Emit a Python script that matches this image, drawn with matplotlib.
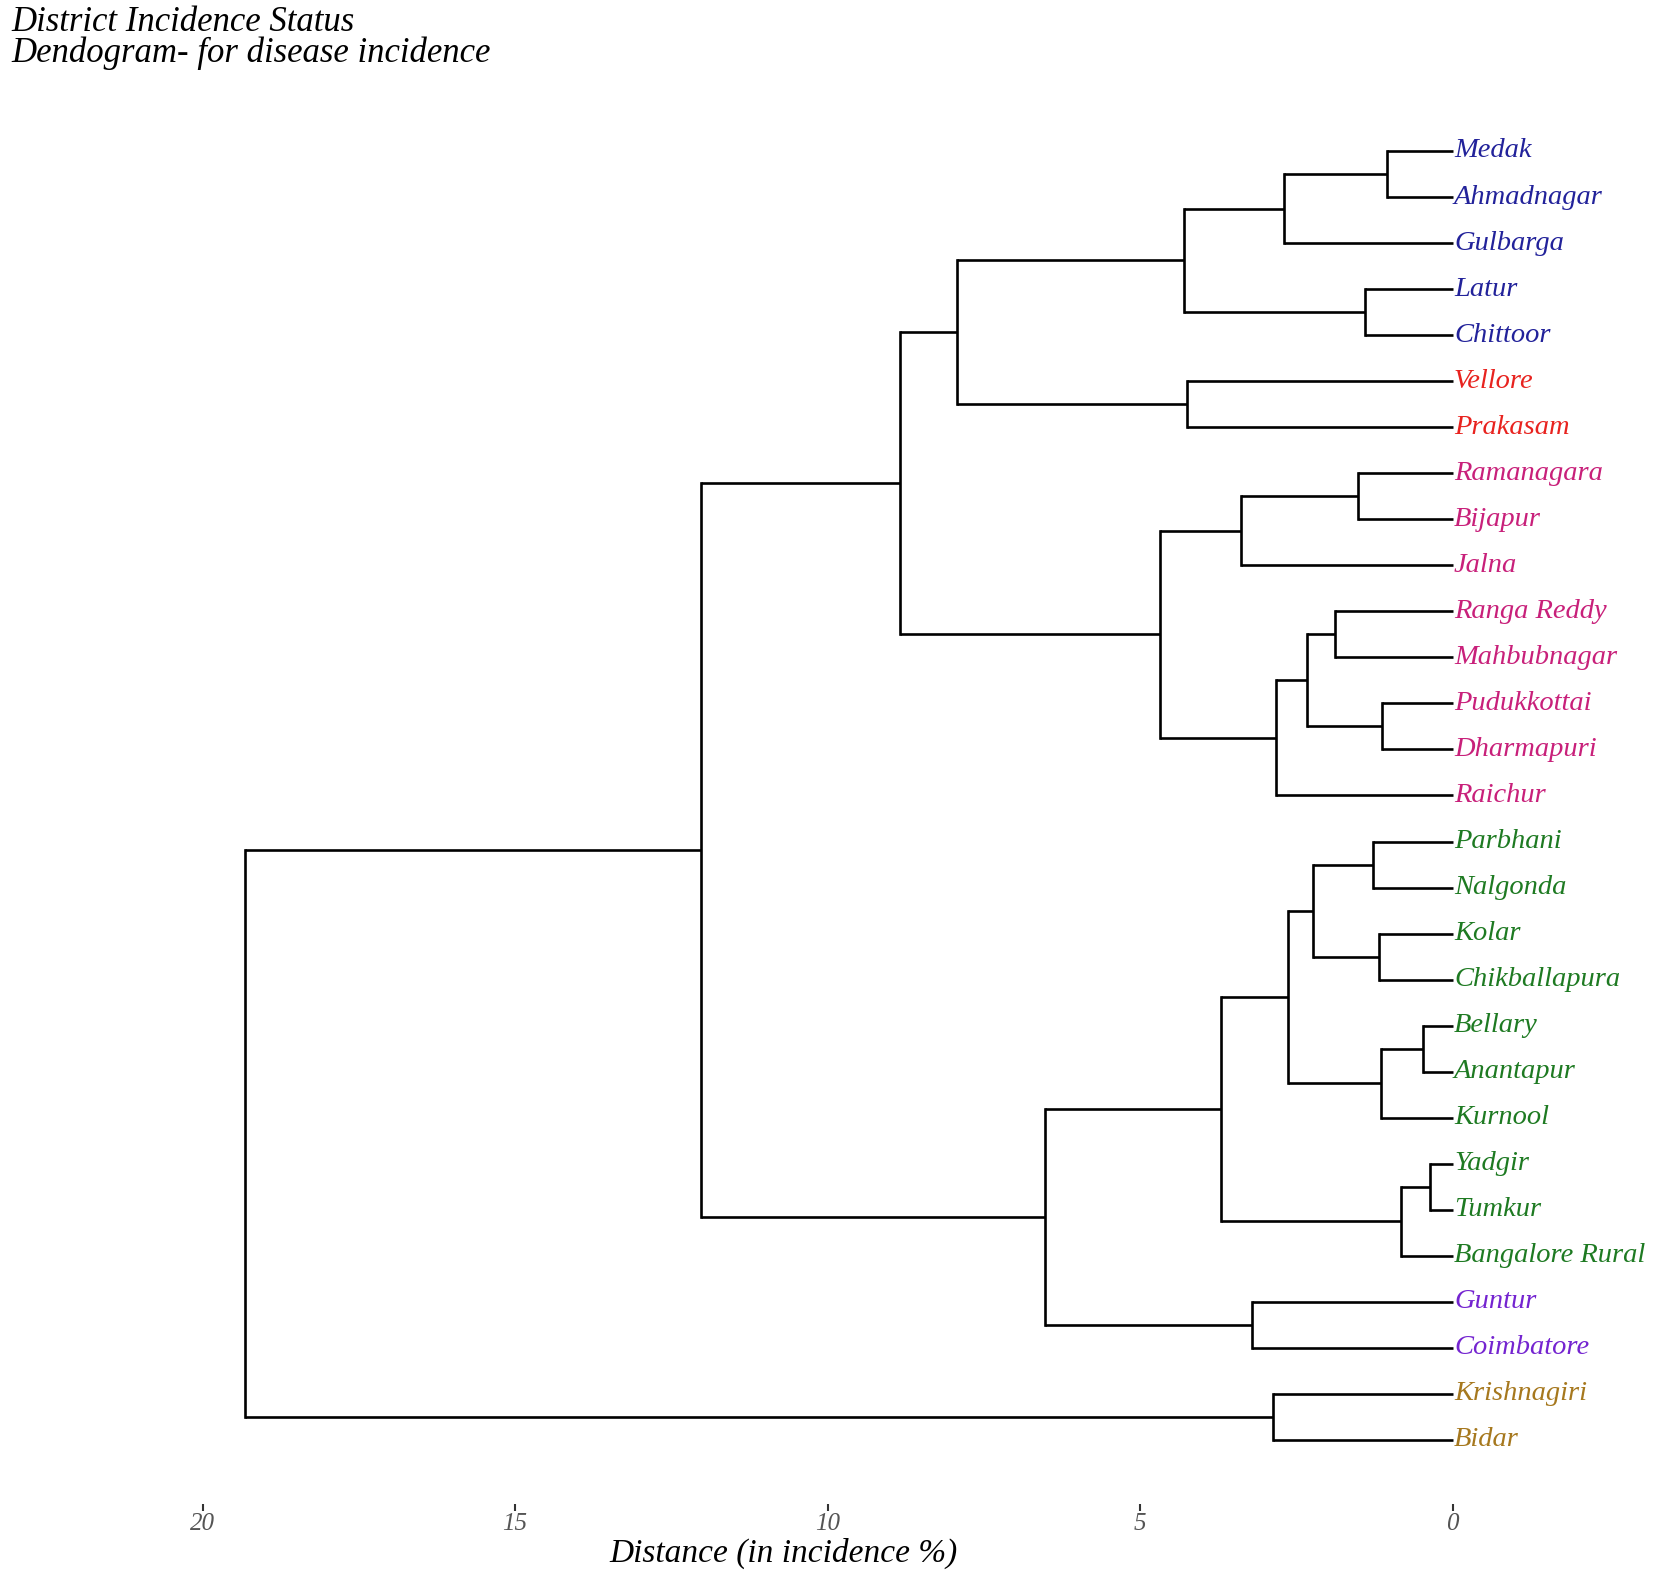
import numpy as np
import matplotlib
matplotlib.use("Agg")
import matplotlib.pyplot as plt

# ==== DATA ====
LEAVES = ["Medak", "Ahmadnagar", "Gulbarga", "Latur", "Chittoor",
          "Vellore", "Prakasam",
          "Ramanagara", "Bijapur", "Jalna", "Ranga Reddy", "Mahbubnagar",
          "Pudukkottai", "Dharmapuri", "Raichur",
          "Parbhani", "Nalgonda", "Kolar", "Chikballapura", "Bellary",
          "Anantapur", "Kurnool", "Yadgir", "Tumkur", "Bangalore Rural",
          "Guntur", "Coimbatore",
          "Krishnagiri", "Bidar"]

# cluster id for every leaf
CLUSTER = [0] * 5 + [1] * 2 + [2] * 8 + [3] * 10 + [4] * 2 + [5] * 2
CLUSTER_COLORS = ["#22229a", "#e8231f", "#c8207a", "#1e7a22", "#7424d0", "#a6781e"]

# merges: (child a, child b, height) -- new node ids start at len(LEAVES)
MERGES = [
    (0, 1, 1.05), (29, 2, 2.70), (3, 4, 1.40), (30, 31, 4.30),
    (5, 6, 4.25), (32, 33, 7.93),
    (7, 8, 1.52), (35, 9, 3.38), (10, 11, 1.89), (12, 13, 1.13),
    (37, 38, 2.33), (39, 14, 2.82), (36, 40, 4.68), (34, 41, 8.84),
    (15, 16, 1.28), (17, 18, 1.18), (43, 44, 2.24), (19, 20, 0.47),
    (46, 21, 1.15), (45, 47, 2.63), (22, 23, 0.37), (49, 24, 0.83),
    (48, 50, 3.70), (25, 26, 3.21), (51, 52, 6.53), (42, 53, 12.03),
    (27, 28, 2.87), (54, 55, 19.32),
]

XTICKS = [0, 5, 10, 15, 20]
# ==============

serif = ["Liberation Serif", "DejaVu Serif"]

fig = plt.figure(figsize=(16.54, 15.72), dpi=100)
ax = fig.add_axes([0, 0.043, 1, 0.957])

n = len(LEAVES)
pos_y = {i: float(i) for i in range(n)}
pos_x = {i: 0.0 for i in range(n)}

for k, (a, b, h) in enumerate(MERGES):
    node = n + k
    for c in (a, b):
        ax.plot([pos_x[c], h], [pos_y[c], pos_y[c]], color="black", lw=1.9,
                solid_capstyle="butt")
    ax.plot([h, h], [pos_y[a], pos_y[b]], color="black", lw=1.9)
    pos_x[node] = h
    pos_y[node] = (pos_y[a] + pos_y[b]) / 2

for i, name in enumerate(LEAVES):
    ax.text(-0.02, i, name, color=CLUSTER_COLORS[CLUSTER[i]], fontsize=20.5,
            style="italic", family=serif, va="center", ha="left")

ax.set_xlim(23.24, -3.22)
ax.set_ylim(29.4, -3.28)

for s in ax.spines.values():
    s.set_visible(False)
ax.set_yticks([])
ax.set_xticks(XTICKS)
ax.set_xticklabels([str(t) for t in XTICKS], family=serif, style="italic",
                   fontsize=18, color="#555555")
ax.tick_params(axis="x", direction="out", length=5, width=1.5, pad=1,
               color="#333333")

fig.text(0.474, 0.012, "Distance (in incidence %)", ha="center", va="center",
         fontsize=24, style="italic", family=serif)
fig.text(0.007, 0.986, "District Incidence Status", ha="left", va="center",
         fontsize=25, style="italic", family=serif)
fig.text(0.007, 0.966, "Dendogram- for disease incidence", ha="left", va="center",
         fontsize=25, style="italic", family=serif)

fig.savefig("out.png", dpi=100)
